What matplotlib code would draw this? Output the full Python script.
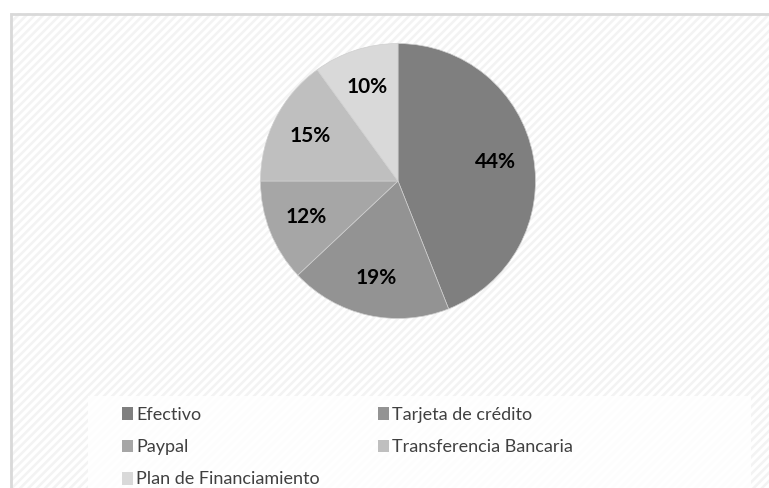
import matplotlib.pyplot as plt
from matplotlib.patches import Rectangle, Patch

labels = ["Efectivo", "Tarjeta de crédito", "Paypal", "Transferencia Bancaria", "Plan de Financiamiento"]
values = [44, 19, 12, 15, 10]
colors = ["#7f7f7f", "#939393", "#a6a6a6", "#bfbfbf", "#d9d9d9"]

W, H = 769, 488
plt.rcParams["font.family"] = ["Lato", "DejaVu Sans"]
plt.rcParams["hatch.linewidth"] = 1.8
fig = plt.figure(figsize=(W / 100, H / 100), dpi=100)
fig.patch.set_facecolor("white")

# hatched chart area with light border
bg = Rectangle((10 / W, 0), 1 - 10 / W, 1 - 13 / H, transform=fig.transFigure,
               facecolor="white", edgecolor="#f3f3f3", hatch="////", linewidth=0, zorder=-3)
fig.patches.append(bg)
border = Rectangle((10.5 / W, -0.01), 1.1, 1 - 13.5 / H + 0.01, transform=fig.transFigure,
                   facecolor="none", edgecolor="#d9d9d9", linewidth=2, zorder=-2)
fig.patches.append(border)

# legend backing
leg_bg = Rectangle((88 / W, 0), (751 - 88) / W, (488 - 396) / H, transform=fig.transFigure,
                   facecolor="white", edgecolor="none", alpha=0.85, zorder=-2)
fig.patches.append(leg_bg)

cx, cy, r = 398, 181, 137.5
ax = fig.add_axes([(cx - r) / W, (H - cy - r) / H, 2 * r / W, 2 * r / H], zorder=2)
ax.set_axis_off()
wedges, texts, autotexts = ax.pie(
    values, colors=colors, startangle=90, counterclock=False,
    autopct=lambda p: f"{p:.0f}%", pctdistance=0.72,
    wedgeprops=dict(edgecolor="#cfcfcf", linewidth=0.5),
    textprops=dict(fontsize=15, fontweight="bold", color="black"),
)
ax.set_xlim(-1, 1)
ax.set_ylim(-1, 1)
ax.set_aspect("equal")

order = [0, 2, 4, 1, 3]
handles = [Patch(facecolor=colors[i], edgecolor="none") for i in order]
fig.legend(handles, [labels[i] for i in order], ncol=2, loc="upper left",
           bbox_to_anchor=(122 / W, 1 - 407 / H), frameon=False,
           fontsize=13, labelcolor="#404040", handlelength=0.6, handleheight=0.7,
           handletextpad=0.2, columnspacing=3.2, labelspacing=0.9,
           borderpad=0, borderaxespad=0)

fig.savefig("out.png", dpi=100)
